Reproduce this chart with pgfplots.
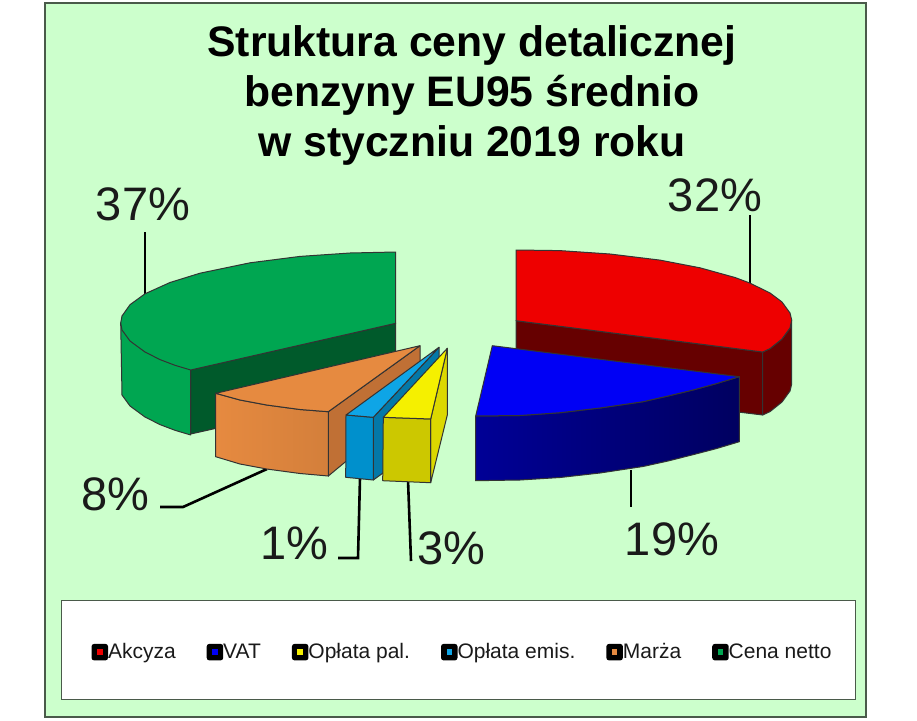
\documentclass[border=0pt]{standalone}
\usepackage{pgfplots}
\pgfplotsset{compat=1.18}
\usepackage{fontspec}
\setmainfont{Liberation Sans}
\definecolor{panel}{HTML}{CCFFCC}
\definecolor{edge}{HTML}{4A5A4A}
\definecolor{txt}{HTML}{1A1A1A}
\definecolor{cRed}{HTML}{EE0000}
\definecolor{cRedD}{HTML}{660000}
\definecolor{cBlue}{HTML}{0000F5}
\definecolor{cBlueL}{HTML}{000096}
\definecolor{cBlueR}{HTML}{000060}
\definecolor{cYel}{HTML}{F5F000}
\definecolor{cYelF}{HTML}{CCC800}
\definecolor{cYelS}{HTML}{DCD800}
\definecolor{cSky}{HTML}{0EA5E6}
\definecolor{cSkyF}{HTML}{0090CC}
\definecolor{cSkyS}{HTML}{0478A8}
\definecolor{cOra}{HTML}{E68A40}
\definecolor{cOraS}{HTML}{C07035}
\definecolor{cGre}{HTML}{00A651}
\definecolor{cGreD}{HTML}{005A2B}
\pgfplotsset{
  swatch/.style={
    legend image code/.code={
      \fill[black,rounded corners=2pt] (0pt,-1pt) rectangle (15pt,14pt);
      \fill[##1] (4pt,3pt) rectangle (11pt,10pt);
    }
  },
  piece/.style={forget plot,draw=black!80,line width=1pt,fill=#1,line join=round},
  leader/.style={forget plot,black,line width=2.6pt},
}
\begin{document}
\begin{tikzpicture}
\begin{axis}[
  width=917pt,height=720pt,scale only axis,
  xmin=0,xmax=917,ymin=0,ymax=720,y dir=reverse,
  hide axis,
  swatch,
  legend columns=-1,
  legend style={
    at={(0.5,0.0972)},anchor=center,
    draw=edge,line width=1.5pt,fill=white,
    inner xsep=30pt,inner ysep=39pt,
    font=\fontsize{21}{24}\selectfont\color{txt},
    /tikz/every even column/.append style={column sep=31pt},
    nodes={inner sep=0pt,anchor=base west},
  },
]
% page and panel
\addplot[forget plot,draw=none,fill=white] coordinates {(0,0) (917,0) (917,720) (0,720)} -- cycle;
\addplot[forget plot,draw=edge,line width=2pt,fill=panel] coordinates {(45,2.5) (866,2.5) (866,717) (45,717)} -- cycle;

% leaders
\addplot[leader] coordinates {(145,232) (145,296)};
\addplot[leader] coordinates {(750,215) (750,285)};
\addplot[leader] coordinates {(631,470) (631,507)};
\addplot[leader] coordinates {(160,507) (183,507) (267,469)};
\addplot[leader] coordinates {(338,558) (358,558) (360,478)};
\addplot[leader] coordinates {(408,480) (411,561)};

% Cena netto 37%
\addplot[piece=cGreD] coordinates {(395.7,323.3) (395.7,388) (190.7,434) (190.7,369.5)} -- cycle;
\addplot[piece=cGre] coordinates {(120.7,323) (122,395) (130,406) (145,417) (160,424.6) (175,430.3) (190.7,435) (190.7,370)} -- cycle;
\addplot[piece=cGre] coordinates {(395.7,252) (350,253) (300,256.4) (250,262.8) (200,273.2) (170,282.5) (145,293.8) (130,304.7) (122,316) (120.7,323) (122,330) (130,341) (145,352) (160,359.6) (175,365.3) (190.7,370) (395.7,323.3)} -- cycle;

% Akcyza 32%
\addplot[piece=cRedD] coordinates {(516,320.7) (762.7,352) (762.7,415) (516,385)} -- cycle;
\addplot[piece=cRedD] coordinates {(762.7,352) (770,348.6) (782,339) (790,328) (791.7,320) (791.7,384) (790,391) (782,402) (770,411.6) (762.7,415)} -- cycle;
\addplot[piece=cRed] coordinates {(516,250) (560,250.6) (610,254) (660,260.1) (700,267.8) (735,277.5) (750,283.1) (770,293) (782,302) (790,313) (791.7,320) (790,328) (782,339) (770,348.6) (762.7,352) (516,320.7)} -- cycle;

% VAT 19%
\addplot[forget plot,draw=black!80,line width=1pt,left color=cBlueL,right color=cBlueR] coordinates {(475.7,416) (520,415.5) (560,412.7) (600,408) (643,401.7) (668,396) (693,390) (716,383.7) (739.3,376.7) (739.3,441.7) (716,448.7) (693,454.7) (668,461) (643,466.5) (600,473) (560,477.5) (520,480) (475.7,480.7)} -- cycle;
\addplot[piece=cBlue] coordinates {(492.3,345.7) (475.7,416) (520,415.5) (560,412.7) (600,408) (643,401.7) (668,396) (693,390) (716,383.7) (739.3,376.7)} -- cycle;

% Marza 8%
\addplot[piece=cOraS] coordinates {(328.3,411.7) (420,345.7) (420,400) (328.3,476)} -- cycle;
\addplot[forget plot,draw=black!80,line width=1pt,left color=cOra,right color=cOra!92!black] coordinates {(215.7,393.3) (240,400) (266.7,405) (300,409.5) (328.3,411.7) (328.3,476) (300,473.5) (266.7,469) (240,464) (215.7,456.7)} -- cycle;
\addplot[piece=cOra] coordinates {(420,345.7) (215.7,393.3) (240,400) (266.7,405) (300,409.5) (328.3,411.7)} -- cycle;

% Oplata emis. 1%
\addplot[piece=cSkyS] coordinates {(373.3,417.3) (439,347.3) (439,362) (383,473) (373.3,480)} -- cycle;
\addplot[piece=cSkyF] coordinates {(346,415) (373.3,417.3) (373.3,480) (345.7,477.3)} -- cycle;
\addplot[piece=cSky] coordinates {(439,347.3) (346,415) (373.3,417.3)} -- cycle;

% Oplata pal. 3%
\addplot[piece=cYelS] coordinates {(430.7,419) (447.3,348.3) (447.3,415) (430.7,482.7)} -- cycle;
\addplot[piece=cYelF] coordinates {(383.3,417.3) (430.7,419) (430.7,482.7) (382.7,480.7)} -- cycle;
\addplot[piece=cYel] coordinates {(447.3,348.3) (383.3,417.3) (430.7,419)} -- cycle;

% legend
\addlegendimage{fill=cRed}\addlegendentry{Akcyza}
\addlegendimage{fill=cBlue}\addlegendentry{VAT}
\addlegendimage{fill=cYel}\addlegendentry{Opłata pal.}
\addlegendimage{fill=cSky}\addlegendentry{Opłata emis.}
\addlegendimage{fill=cOra}\addlegendentry{Marża}
\addlegendimage{fill=cGre}\addlegendentry{\rule{0pt}{19pt}Cena netto\hspace*{-6pt}}

% title
\node[align=center,font=\fontsize{42.7}{50}\selectfont\bfseries,text=black] at (axis cs:472,95)
  {Struktura ceny detalicznej\\benzyny EU95 średnio\\w styczniu 2019 roku};

% percentage labels
\node[font=\fontsize{47}{50}\selectfont,text=txt] at (axis cs:143,204) {37\%};
\node[font=\fontsize{47}{50}\selectfont,text=txt] at (axis cs:715,195) {32\%};
\node[font=\fontsize{47}{50}\selectfont,text=txt] at (axis cs:672,539) {19\%};
\node[font=\fontsize{47}{50}\selectfont,text=txt] at (axis cs:115,494) {8\%};
\node[font=\fontsize{47}{50}\selectfont,text=txt] at (axis cs:294,543) {1\%};
\node[font=\fontsize{47}{50}\selectfont,text=txt] at (axis cs:451,548) {3\%};
\end{axis}
\end{tikzpicture}
\end{document}
